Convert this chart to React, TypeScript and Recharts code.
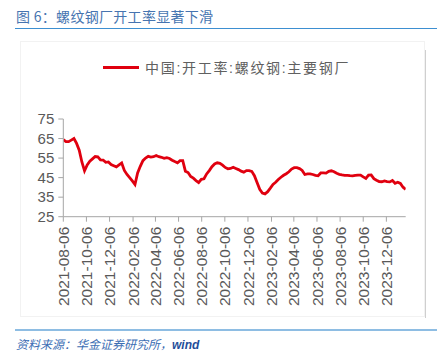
import React from "react";
import { LineChart, Line, XAxis, YAxis, Legend } from "recharts";

const title = "图 6：螺纹钢厂开工率显著下滑";
const source = "资料来源：华金证券研究所，";
const seriesName = "中国:开工率:螺纹钢:主要钢厂";

const startDate = "2021-08-06";
const values: number[] = [
  64.4, 63.4, 63.4, 64.2, 65.0, 62.5, 59.0, 53.0, 48.5, 51.5,
  53.4, 54.6, 55.8, 55.6, 54.1, 54.0, 52.8, 53.0, 51.7, 51.1,
  50.5, 51.5, 52.5, 48.7, 46.6, 45.0, 43.3, 41.5, 47.4, 50.8,
  53.7, 55.0, 55.9, 55.5, 55.7, 56.3, 55.7, 55.4, 54.9, 55.2,
  54.8, 53.9, 53.2, 52.6, 53.7, 53.7, 48.3, 47.6, 45.6, 44.7,
  43.5, 42.5, 44.1, 44.4, 46.9, 48.6, 50.6, 52.0, 52.6, 52.3,
  51.4, 50.2, 49.5, 49.7, 50.3, 49.7, 49.1, 48.3, 47.8, 48.6,
  48.6, 48.2, 46.0, 42.5, 39.0, 37.1, 36.7, 37.8, 39.6, 41.5,
  42.6, 44.0, 45.2, 46.2, 47.0, 48.0, 49.4, 50.1, 50.1, 49.6,
  48.7, 46.6, 46.9, 46.9, 46.6, 46.2, 46.0, 47.4, 47.4, 47.3,
  48.2, 48.5, 48.0, 47.2, 46.7, 46.4, 46.2, 46.2, 46.0, 45.9,
  46.1, 46.3, 46.3, 45.4, 44.6, 46.3, 46.4, 44.5, 43.7, 43.0,
  42.9, 43.3, 43.0, 42.8, 43.5, 42.1, 42.6, 42.0, 40.1, 39.0,
];

const xTickLabels = [
  "2021-08-06", "2021-10-06", "2021-12-06", "2022-02-06", "2022-04-06",
  "2022-06-06", "2022-08-06", "2022-10-06", "2022-12-06", "2023-02-06",
  "2023-04-06", "2023-06-06", "2023-08-06", "2023-10-06", "2023-12-06",
];
const yTicks = [25, 35, 45, 55, 65, 75];

const DAY = 86400000;
const t0 = Date.parse(startDate + "T00:00:00Z");
const data = values.map((v, i) => ({ t: t0 + i * 7 * DAY, v }));
const xTicks = xTickLabels.map((s) => Date.parse(s + "T00:00:00Z"));

const fmt = (t: number) => {
  const d = new Date(t);
  const m = String(d.getUTCMonth() + 1).padStart(2, "0");
  const dd = String(d.getUTCDate()).padStart(2, "0");
  return `${d.getUTCFullYear()}-${m}-${dd}`;
};

const FONT = "'Liberation Sans', Arial, 'Noto Sans CJK SC', sans-serif";

const XTick = (props: any) => {
  const { x, y, payload } = props;
  return (
    <text
      x={x}
      y={y}
      transform={`rotate(-90, ${x}, ${y})`}
      textAnchor="end"
      dy="0.36em"
      fontSize={15.5}
      fill="#595959"
      fontFamily={FONT}
    >
      {fmt(payload.value)}
    </text>
  );
};

const LegendContent = () => (
  <div style={{ display: "flex", alignItems: "center", fontFamily: FONT }}>
    <div style={{ width: 36, height: 3, background: "#e0000f", marginRight: 6 }} />
    <span style={{ fontSize: 14, letterSpacing: 1.7, color: "#606060", whiteSpace: "nowrap" }}>{seriesName}</span>
  </div>
);

export default function App() {
  return (
    <div style={{ position: "absolute", left: 0, top: 0, width: 437, height: 352, background: "#fff", fontFamily: FONT }}>
      <div style={{ position: "absolute", left: 16, top: 7, fontSize: 14, color: "#4674b0", whiteSpace: "nowrap", fontFamily: "'Noto Sans CJK SC', sans-serif", lineHeight: "18px", letterSpacing: 0.3 }}>
        {title}
      </div>
      <div style={{ position: "absolute", left: 15, top: 27.5, width: 422, height: 1.5, background: "#3d8fd1" }} />
      <div style={{ position: "absolute", left: 20, top: 40.5, width: 405, height: 276, border: "1px solid #f2f2f2", boxSizing: "border-box" }} />
      <div style={{ position: "absolute", left: 425, top: 50, width: 1, height: 268, background: "#cfcfcf" }} />
      <div style={{ position: "absolute", left: 0, top: 0 }}>
        <LineChart
          width={437}
          height={352}
          data={data}
          margin={{ top: 99, right: 31.3, left: 20, bottom: 35.3 }}
        >
          <XAxis
            dataKey="t"
            type="number"
            scale="time"
            domain={[data[0].t, data[data.length - 1].t]}
            ticks={xTicks}
            tick={<XTick />}
            interval={0}
            height={100}
            tickSize={5}
            tickMargin={5}
            stroke="#a6a6a6"
            allowDataOverflow
          />
          <YAxis
            domain={[25, 75]}
            ticks={yTicks}
            width={43.3}
            tickSize={5}
            tickMargin={4}
            stroke="#a6a6a6"
            tick={{ fontSize: 15, fill: "#595959", fontFamily: FONT }}
            interval={0}
          />
          <Legend
            verticalAlign="top"
            content={<LegendContent />}
            wrapperStyle={{ position: "absolute", top: 57, left: 103, width: 300 }}
          />
          <Line
            type="linear"
            dataKey="v"
            name={seriesName}
            stroke="#e0000f"
            strokeWidth={2.8}
            dot={false}
            isAnimationActive={false}
          />
        </LineChart>
      </div>
      <div style={{ position: "absolute", left: 15, top: 329, width: 422, height: 2, background: "#8ebde3" }} />
      <div style={{ position: "absolute", left: 16, top: 336, fontSize: 12, color: "#3c6eb4", whiteSpace: "nowrap", fontStyle: "italic", lineHeight: "16px", fontFamily: "'Noto Sans CJK SC', sans-serif" }}>
        {source}
        <span style={{ fontFamily: "'Liberation Sans', Arial", fontWeight: "bold", color: "#1f4e9a" }}>wind</span>
      </div>
    </div>
  );
}
